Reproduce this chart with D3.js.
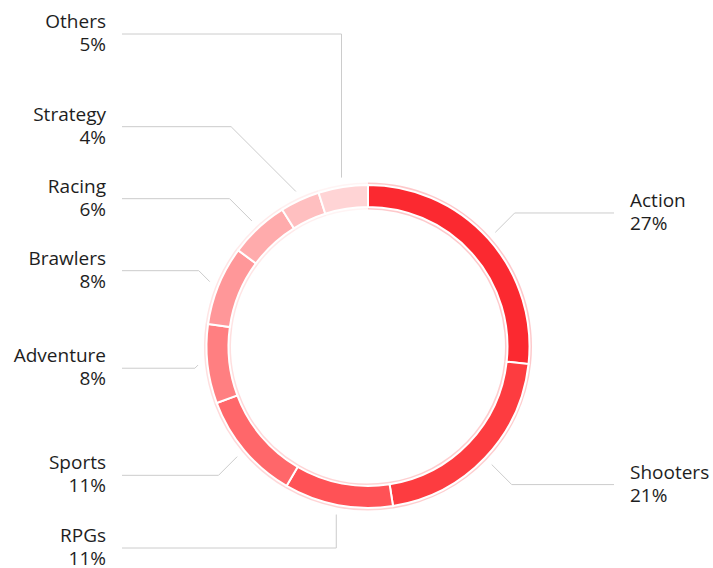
<!DOCTYPE html>
<html>
<head>
<meta charset="utf-8">
<script src="https://cdn.jsdelivr.net/npm/d3@7"></script>
<style>
  body { margin: 0; background: #fff; }
  #chart { width: 713px; height: 568px; }
  text { font-family: "Open Sans", sans-serif; font-size: 19px; fill: #1e1e1e; }
</style>
</head>
<body>
<div id="chart"></div>
<script>

const categories = ["Action", "Shooters", "RPGs", "Sports", "Adventure", "Brawlers", "Racing", "Strategy", "Others"];
const shares = [27, 21, 11, 11, 8, 8, 6, 4, 5];
const colors = ["#fb2930", "#fd3c40", "#ff5256", "#ff676a", "#ff7f81", "#ff9799", "#ffabac", "#ffbfc0", "#ffd4d5"];


const width = document.querySelector("#chart").clientWidth;
const height = document.querySelector("#chart").clientHeight;
const svg = d3.select("#chart")
    .append("svg")
    .attr("width", width)
    .attr("height", height);

const cx = 368, cy = 346.5;
const outerR = 161.5, innerR = 139.5;

const g = svg.append("g").attr("transform", "translate(" + cx + "," + cy + ")");

const pie = d3.pie().sort(null).value(function (d, i) { return shares[i] });
const arcs = pie(categories);

const arc = d3.arc().innerRadius(innerR).outerRadius(outerR);
const halo = d3.arc().innerRadius(innerR - 2.5).outerRadius(outerR + 2.5);

// faint halo behind each slice
g.selectAll("path.halo")
    .data(arcs)
    .enter()
    .append("path")
    .attr("class", "halo")
    .attr("d", halo)
    .attr("fill", function (d, i) { return colors[i] })
    .attr("fill-opacity", 0.25);

g.selectAll("path.slice")
    .data(arcs)
    .enter()
    .append("path")
    .attr("class", "slice")
    .attr("d", arc)
    .attr("fill", function (d, i) { return colors[i] })
    .attr("stroke", "#fff")
    .attr("stroke-width", 2);


// label layout
const startR = 171, labelR = 200;
const minY = 34 - cy, maxY = 548 - cy, gap = 72;

const labels = arcs.map(function (d, i) {
    const mid = (d.startAngle + d.endAngle) / 2;
    const vertical = Math.abs(Math.sin(mid)) < 0.25;
    let y = -labelR * Math.cos(mid);
    // near top/bottom labels go straight to the chart edge
    if (vertical) y = Math.cos(mid) > 0 ? minY : maxY;
    return {
        name: categories[i],
        pct: shares[i] + "%",
        mid: mid,
        vertical: vertical,
        right: Math.sin(mid) > 0,
        sx: startR * Math.sin(mid),
        sy: -startR * Math.cos(mid),
        y: y
    }
});

[true, false].forEach(function (side) {
    const list = labels.filter(function (l) { return l.right === side })
        .sort(function (a, b) { return a.y - b.y });
    // push upward from the bottom
    for (let i = list.length - 2; i >= 0; i--) {
        list[i].y = Math.min(list[i].y, list[i + 1].y - gap);
    }
    // then keep inside the top
    for (let i = 0; i < list.length; i++) {
        if (i === 0) list[i].y = Math.max(list[i].y, minY);
        else list[i].y = Math.max(list[i].y, list[i - 1].y + gap);
    }
});

labels.forEach(function (l) {
    const dir = l.right ? 1 : -1;
    const dy = l.y - l.sy;
    const bx = l.vertical ? l.sx : l.sx + dir * Math.abs(dy);
    const ex = dir * 246;

    g.append("path")
        .attr("d", "M" + l.sx + "," + l.sy + "L" + bx + "," + l.y + "L" + ex + "," + l.y)
        .attr("fill", "none")
        .attr("stroke", "#cccccc")
        .attr("stroke-width", 1);

    const t = g.append("text")
        .attr("text-anchor", l.right ? "start" : "end")
        .attr("x", dir * 262)
        .attr("y", l.y - 6);
    t.append("tspan").text(l.name);
    t.append("tspan")
        .attr("x", dir * 262)
        .attr("dy", 23)
        .text(l.pct);
});

</script>
</body>
</html>
